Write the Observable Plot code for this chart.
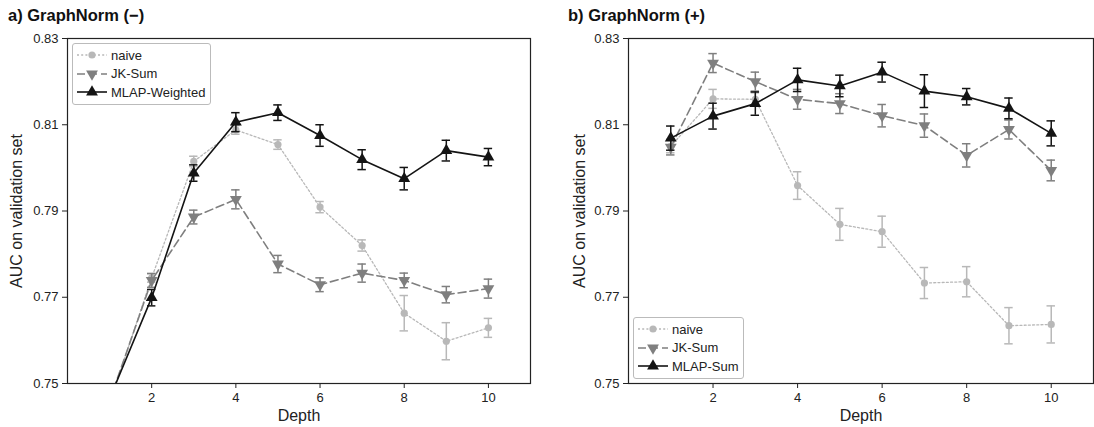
<!DOCTYPE html>
<html><head><meta charset="utf-8">
<script src="https://cdn.jsdelivr.net/npm/d3@7"></script>
<script src="https://cdn.jsdelivr.net/npm/@observablehq/plot@0.6"></script>
<style>
body{margin:0;background:#fff;font-family:"Liberation Sans",Arial,sans-serif;}
#wrap{position:relative;width:1094px;height:427px;overflow:hidden;background:#fff;}
.panel{position:absolute;top:0;}
.title{position:absolute;top:6px;font-weight:bold;font-size:16.5px;color:#111;white-space:nowrap;}
.legend{position:absolute;border:1px solid #bbb;border-radius:3px;background:#fff;padding:2px 5px 2px 4px;font-size:13px;color:#222;}
.legend .row{display:flex;align-items:center;height:18.5px;}
.legend svg{margin-right:4px;display:block}
g[aria-label="y-axis label"], g[aria-label="x-axis label"]{font-size:16px;}
</style>
</head><body>
<div id="wrap"></div>
<script>
const depths = [1, 2, 3, 4, 5, 6, 7, 8, 9, 10];
const yTicks = [0.75, 0.77, 0.79, 0.81, 0.83];
const xTicks = [2, 4, 6, 8, 10];

// a) GraphNorm (−)
const aNaive    = [0.7455, 0.7745, 0.8015, 0.8088, 0.8054, 0.7909, 0.7820, 0.7663, 0.7598, 0.7629];
const aNaiveErr = [0.0010, 0.0010, 0.0012, 0.0010, 0.0011, 0.0013, 0.0013, 0.0041, 0.0043, 0.0022];
const aJK       = [0.7460, 0.7739, 0.7886, 0.7927, 0.7777, 0.7729, 0.7756, 0.7739, 0.7706, 0.7720];
const aJKErr    = [0.0015, 0.0016, 0.0016, 0.0022, 0.0020, 0.0016, 0.0021, 0.0017, 0.0019, 0.0022];
const aMLAP     = [0.7465, 0.7699, 0.7988, 0.8106, 0.8128, 0.8075, 0.8019, 0.7975, 0.8040, 0.8025];
const aMLAPErr  = [0.0015, 0.0019, 0.0019, 0.0022, 0.0018, 0.0025, 0.0023, 0.0026, 0.0024, 0.0020];

// b) GraphNorm (+)
const bNaive    = [0.8050, 0.8160, 0.8159, 0.7959, 0.7869, 0.7852, 0.7733, 0.7736, 0.7634, 0.7637];
const bNaiveErr = [0.0015, 0.0022, 0.0015, 0.0032, 0.0037, 0.0036, 0.0036, 0.0035, 0.0042, 0.0043];
const bJK       = [0.8048, 0.8243, 0.8200, 0.8159, 0.8149, 0.8121, 0.8098, 0.8029, 0.8089, 0.7994];
const bJKErr    = [0.0018, 0.0022, 0.0022, 0.0023, 0.0023, 0.0026, 0.0027, 0.0027, 0.0022, 0.0024];
const bMLAP     = [0.8069, 0.8120, 0.8149, 0.8204, 0.8190, 0.8222, 0.8178, 0.8165, 0.8138, 0.8080];
const bMLAPErr  = [0.0028, 0.0030, 0.0027, 0.0027, 0.0025, 0.0023, 0.0038, 0.0019, 0.0024, 0.0029];

const seriesNames = ["naive", "JK-Sum"];
const sqrt3 = Math.sqrt(3);
const triDown = {draw(ctx, size){const y = -Math.sqrt(size/(sqrt3*3)); ctx.moveTo(0,-y*2); ctx.lineTo(-sqrt3*y, y); ctx.lineTo(sqrt3*y, y); ctx.closePath();}};
const triUp = {draw(ctx, size){const y = -Math.sqrt(size/(sqrt3*3)); ctx.moveTo(0,y*2); ctx.lineTo(-sqrt3*y, -y); ctx.lineTo(sqrt3*y, -y); ctx.closePath();}};

const styles = [
  {color:"#b8b8b8", dash:"2,2.2", width:1.3, symbol:"circle", r:3.6},
  {color:"#7f7f7f", dash:"8,4", width:1.6, symbol:triDown, r:4.4},
  {color:"#141414", dash:null, width:1.6, symbol:triUp, r:4.4}
];

function seriesMarks(mean, err, st) {
  const rows = depths.map((d,i)=>({depth:d, v:mean[i], lo:mean[i]-err[i], hi:mean[i]+err[i]}));
  const cap = 0.1;
  return [
    Plot.line(rows, {x:"depth", y:"v", stroke:st.color, strokeWidth:st.width, strokeDasharray:st.dash, clip:true}),
    Plot.ruleX(rows, {x:"depth", y1:"lo", y2:"hi", stroke:st.color, strokeWidth:1.5, clip:true}),
    Plot.ruleY(rows, {y:"lo", x1:d=>d.depth-cap, x2:d=>d.depth+cap, stroke:st.color, strokeWidth:1.5, clip:true}),
    Plot.ruleY(rows, {y:"hi", x1:d=>d.depth-cap, x2:d=>d.depth+cap, stroke:st.color, strokeWidth:1.5, clip:true}),
    Plot.dot(rows, {x:"depth", y:"v", symbol:()=>st.symbol, fill:st.color, stroke:"none", r:st.r, clip:true})
  ];
}

function makePanel(data, width, marginLeft, marginRight, labelOffset) {
  return Plot.plot({
    width, height:427, marginLeft, marginRight, marginTop:38, marginBottom:44,
    style:{fontSize:"13px", fontFamily:"Liberation Sans, Arial, sans-serif", color:"#222", background:"transparent"},
    x:{domain:[0,11]},
    y:{domain:[0.75,0.83]},
    symbol:{type:"identity"},
    marks:[
      Plot.axisY({ticks:yTicks, tickFormat:d3.format(".2f"), tickSize:5, label:"AUC on validation set", labelAnchor:"center", labelArrow:"none", labelOffset}),
      Plot.axisX({ticks:xTicks, tickSize:5, label:"Depth", labelAnchor:"center", labelArrow:"none", labelOffset:37}),
      ...seriesMarks(data[0][0], data[0][1], styles[0]),
      ...seriesMarks(data[1][0], data[1][1], styles[1]),
      ...seriesMarks(data[2][0], data[2][1], styles[2]),
      Plot.frame({stroke:"#222", strokeWidth:1.2})
    ]
  });
}

function glyph(st) {
  const ns = "http://www.w3.org/2000/svg";
  const svg = document.createElementNS(ns, "svg");
  svg.setAttribute("width", 30); svg.setAttribute("height", 14);
  const line = document.createElementNS(ns, "line");
  line.setAttribute("x1", 0); line.setAttribute("x2", 30); line.setAttribute("y1", 7); line.setAttribute("y2", 7);
  line.setAttribute("stroke", st.color); line.setAttribute("stroke-width", st.width);
  if (st.dash) line.setAttribute("stroke-dasharray", st.dash);
  svg.appendChild(line);
  const p = document.createElementNS(ns, "path");
  const path = d3.path();
  const sym = st.symbol === "circle" ? d3.symbolCircle : st.symbol;
  sym.draw(path, Math.PI*st.r*st.r);
  p.setAttribute("d", path.toString());
  p.setAttribute("transform", "translate(15,7)");
  p.setAttribute("fill", st.color);
  svg.appendChild(p);
  return svg;
}

function legend(names, left, top) {
  const box = document.createElement("div");
  box.className = "legend";
  box.style.left = left + "px"; box.style.top = top + "px";
  names.forEach((n,i)=>{
    const row = document.createElement("div"); row.className = "row";
    row.appendChild(glyph(styles[i]));
    const t = document.createElement("span"); t.textContent = n; row.appendChild(t);
    box.appendChild(row);
  });
  return box;
}

const wrap = document.getElementById("wrap");
const left = makePanel([[aNaive,aNaiveErr],[aJK,aJKErr],[aMLAP,aMLAPErr]], 545, 67, 15, 57);
left.classList.add("panel"); left.style.left = "0px";
const right = makePanel([[bNaive,bNaiveErr],[bJK,bJKErr],[bMLAP,bMLAPErr]], 549, 83, 1, 55);
right.classList.add("panel"); right.style.left = "545px";
wrap.appendChild(left); wrap.appendChild(right);

const t1 = document.createElement("div"); t1.className = "title"; t1.style.left = "8px"; t1.textContent = "a) GraphNorm (−)";
const t2 = document.createElement("div"); t2.className = "title"; t2.style.left = "568px"; t2.textContent = "b) GraphNorm (+)";
wrap.appendChild(t1); wrap.appendChild(t2);
wrap.appendChild(legend([...seriesNames, "MLAP-Weighted"], 72, 43));
wrap.appendChild(legend([...seriesNames, "MLAP-Sum"], 633, 317));
</script>
</body></html>
